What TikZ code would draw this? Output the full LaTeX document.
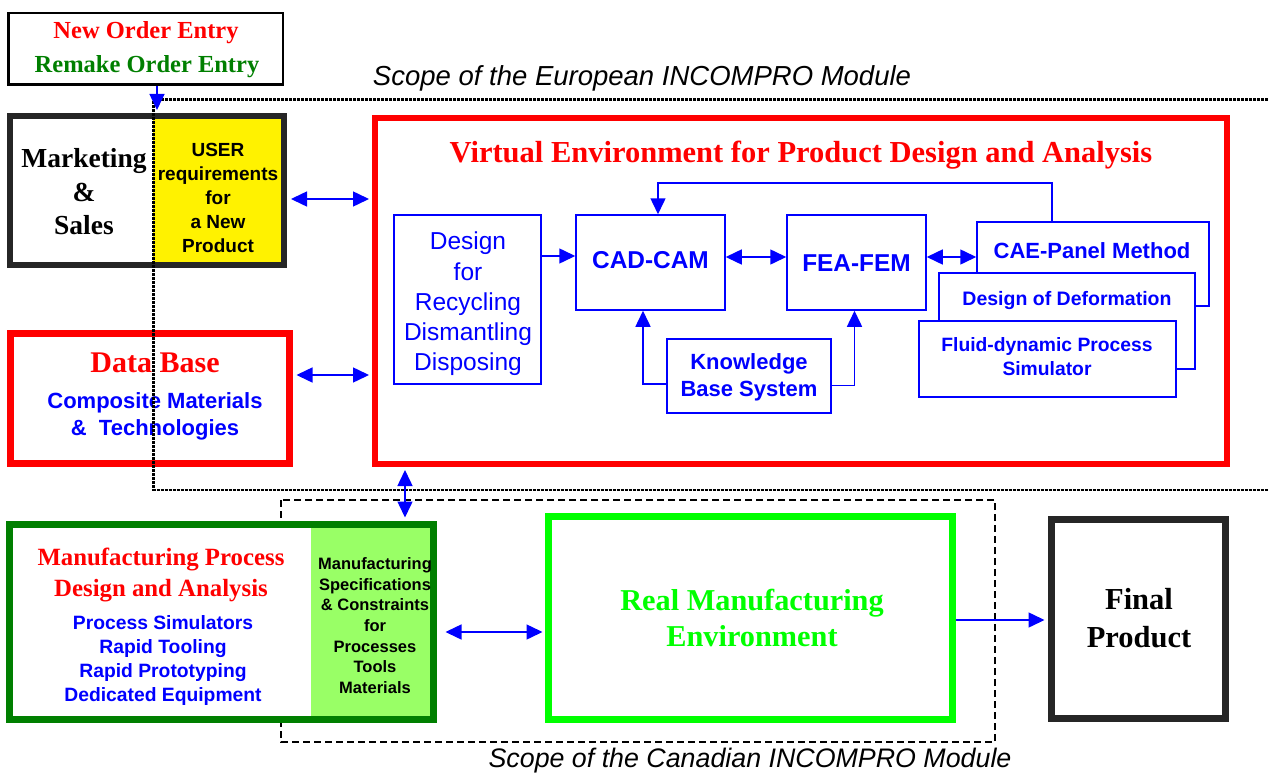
\documentclass[tikz,border=0pt]{standalone}
\usepackage{fontspec}
\setmainfont{Liberation Serif}
\setsansfont{Liberation Sans}
\usetikzlibrary{arrows.meta,calc}
\definecolor{dgreen}{HTML}{007F00}
\definecolor{lgreen}{HTML}{99FF66}
\definecolor{bgreen}{HTML}{00FF00}
\definecolor{dgray}{HTML}{262626}
\newcommand{\fsz}[2]{\fontsize{#1}{#2}\selectfont}
\tikzset{
  box/.style={draw, rectangle, inner sep=0pt},
  bluebox/.style={box, draw=blue, line width=1.5pt, fill=white},
  txt/.style={align=center, inner sep=0pt},
  conn/.style={draw=blue, line width=1.5pt, -{Triangle[length=16pt,width=15pt]}},
  bconn/.style={draw=blue, line width=1.5pt, {Triangle[length=16pt,width=15pt]}-{Triangle[length=16pt,width=15pt]}},
  europe/.style={draw=black, line width=2.4pt, dash pattern=on 3pt off 1pt},
  canada/.style={draw=black, line width=1.5pt, dash pattern=on 7pt off 4pt},
}
\begin{document}
\begin{tikzpicture}[x=1pt,y=-1pt]
\useasboundingbox (0,0) rectangle (1268,773);

% Canadian scope (behind)
\draw[canada] (281,500) rectangle (995,742);

% order box
\node[box, line width=2.5pt, minimum width=274.5pt, minimum height=71.5pt] (order) at (145.5,49) {};
\node[txt, text=red, font=\bfseries\fsz{24.5}{28}] (t1) at (146,33) {New Order Entry};
\node[txt, text=dgreen, font=\bfseries\fsz{24.5}{28}] (t2) at (147,67) {Remake Order Entry};

% marketing box
\fill[white] (10,116) rectangle (153,265);
\fill[yellow] (153,116) rectangle (284,265);
\node[box, draw=dgray, line width=6pt, minimum width=274pt, minimum height=149pt] (mkt) at (147,190.5) {};
\node[txt, font=\bfseries\fsz{27.5}{33.5}] (mkttxt) at (84,192) {Marketing\\\&\\Sales};
\node[txt, font=\sffamily\bfseries\fsz{19}{24}] (user) at (218,197.5) {USER\\requirements\\for\\a New\\Product};

% data base
\node[box, draw=red, fill=white, line width=7pt, minimum width=279pt, minimum height=130pt] (db) at (150,398.5) {};
\node[txt, text=red, font=\bfseries\fsz{30}{34}] (dbt) at (155,363) {Data Base};
\node[txt, text=blue, font=\sffamily\bfseries\fsz{22}{27}] (dbs) at (155,416.5) {Composite Materials\\\&\ \ Technologies};

% virtual environment
\node[box, draw=red, fill=white, line width=6pt, minimum width=852pt, minimum height=346pt] (ve) at (801,291) {};
\node[txt, text=red, font=\bfseries\fsz{30.5}{34}] (vet) at (801,155) {Virtual Environment for Product Design and Analysis};

\node[bluebox, minimum width=147pt, minimum height=169pt] (design) at (467.5,299.5) {};
\node[txt, text=blue, font=\sffamily\fsz{24.5}{30.3}] (designt) at (468,304) {Design\\for\\Recycling\\Dismantling\\Disposing};
\node[bluebox, minimum width=149pt, minimum height=95pt] (cad) at (650.5,262.5) {};
\node[txt, text=blue, font=\sffamily\bfseries\fsz{24.4}{28}] (cadt) at (650.5,260) {CAD-CAM};
\node[bluebox, minimum width=139pt, minimum height=95pt] (fea) at (856.5,262.5) {};
\node[txt, text=blue, font=\sffamily\bfseries\fsz{24.4}{28}] (feat) at (856.5,263) {FEA-FEM};
\node[bluebox, minimum width=232pt, minimum height=84pt] (cae) at (1093,264) {};
\node[txt, text=blue, font=\sffamily\bfseries\fsz{22}{26}] (caet) at (1092,251) {CAE-Panel Method};
\node[bluebox, minimum width=256pt, minimum height=96pt] (dod) at (1067,321) {};
\node[txt, text=blue, font=\sffamily\bfseries\fsz{19.5}{24}] (dodt) at (1067,300) {Design of Deformation};
\node[bluebox, minimum width=257pt, minimum height=76pt] (fluid) at (1047.5,359) {};
\node[txt, text=blue, font=\sffamily\bfseries\fsz{19.3}{24}] (fluidt) at (1047,357) {Fluid-dynamic Process\\Simulator};
\node[bluebox, minimum width=164pt, minimum height=74pt] (kb) at (749,376) {};
\node[txt, text=blue, font=\sffamily\bfseries\fsz{22}{27}] (kbt) at (749,377.5) {Knowledge\\Base System};

% manufacturing process box
\fill[white] (9.5,524.5) rectangle (311,719.5);
\fill[lgreen] (311,524.5) rectangle (433.5,719.5);
\node[box, draw=dgreen, line width=7pt, minimum width=424pt, minimum height=195pt] (mpd) at (221.5,622) {};
\node[txt, text=red, font=\bfseries\fsz{24.8}{31}] (mpdt) at (161,574.5) {Manufacturing Process\\Design and Analysis};
\node[txt, text=blue, font=\sffamily\bfseries\fsz{19.3}{24}] (mpds) at (163,660.5) {Process Simulators\\Rapid Tooling\\Rapid Prototyping\\Dedicated Equipment};
\node[txt, font=\sffamily\bfseries\fsz{16.5}{20.7}] (spec) at (375,625.5) {Manufacturing\\Specifications\\\& Constraints\\for\\Processes\\Tools\\Materials};

% real manufacturing environment
\node[box, draw=bgreen, fill=white, line width=7pt, minimum width=404pt, minimum height=203pt] (real) at (750.5,618) {};
\node[txt, text=bgreen, font=\bfseries\fsz{30.3}{36}] (realt) at (752,618) {Real Manufacturing\\Environment};

% final product
\node[box, draw=dgray, fill=white, line width=7pt, minimum width=174pt, minimum height=199pt] (final) at (1138.5,619) {};
\node[txt, font=\bfseries\fsz{30.5}{38}] (finalt) at (1139,618) {Final\\Product};

% European scope
\draw[europe] (1268,99.5) -- (153.5,99.5) -- (153.5,490) -- (1268,490);
\node[txt, font=\sffamily\itshape\fsz{27.5}{30}] (euro) at (642,78) {Scope of the European INCOMPRO Module};
\node[txt, font=\sffamily\itshape\fsz{26.8}{30}] (canada) at (750,761) {Scope of the Canadian INCOMPRO Module};

% connectors
\coordinate (xo) at (157,0);
\coordinate (y199) at (0,199);
\coordinate (y375) at (0,375);
\coordinate (x405) at (405,0);
\coordinate (y256) at (0,256);
\coordinate (y257) at (0,257);
\coordinate (y632) at (0,632);
\coordinate (y620) at (0,620);
\coordinate (fbx) at (1052,0);
\coordinate (fby) at (0,183);
\coordinate (cadx) at (658,0);
\coordinate (kbl) at (643,0);
\coordinate (kbr) at (854.5,0);
\coordinate (kby1) at (0,384);
\coordinate (kby2) at (0,385.5);

\draw[conn] (order.south -| xo) -- ([yshift=3pt]mkt.north -| xo);
\draw[bconn, shorten <=4pt, shorten >=3pt] (mkt.east |- y199) -- (ve.west |- y199);
\draw[bconn, shorten <=3.5pt, shorten >=3pt] (db.east |- y375) -- (ve.west |- y375);
\draw[bconn, shorten <=3pt, shorten >=3.5pt] (ve.south -| x405) -- (mpd.north -| x405);
\draw[bconn, shorten <=8.5pt, shorten >=2.5pt] (mpd.east |- y632) -- (real.west |- y632);
\draw[conn, shorten >=3.5pt] (real.east |- y620) -- (final.west |- y620);

\draw[conn] (design.east |- y256) -- (cad.west |- y256);
\draw[bconn] (cad.east |- y257) -- (fea.west |- y257);
\draw[bconn] (fea.east |- y257) -- (cae.west |- y257);
\draw[conn] (cae.north -| fbx) -- (fbx |- fby) -- (cadx |- fby) -- (cad.north -| cadx);
\draw[conn] (kb.west |- kby1) -- (kbl |- kby1) -- (cad.south -| kbl);
\draw[conn] (kb.east |- kby2) -- (kbr |- kby2) -- (fea.south -| kbr);
\end{tikzpicture}
\end{document}
